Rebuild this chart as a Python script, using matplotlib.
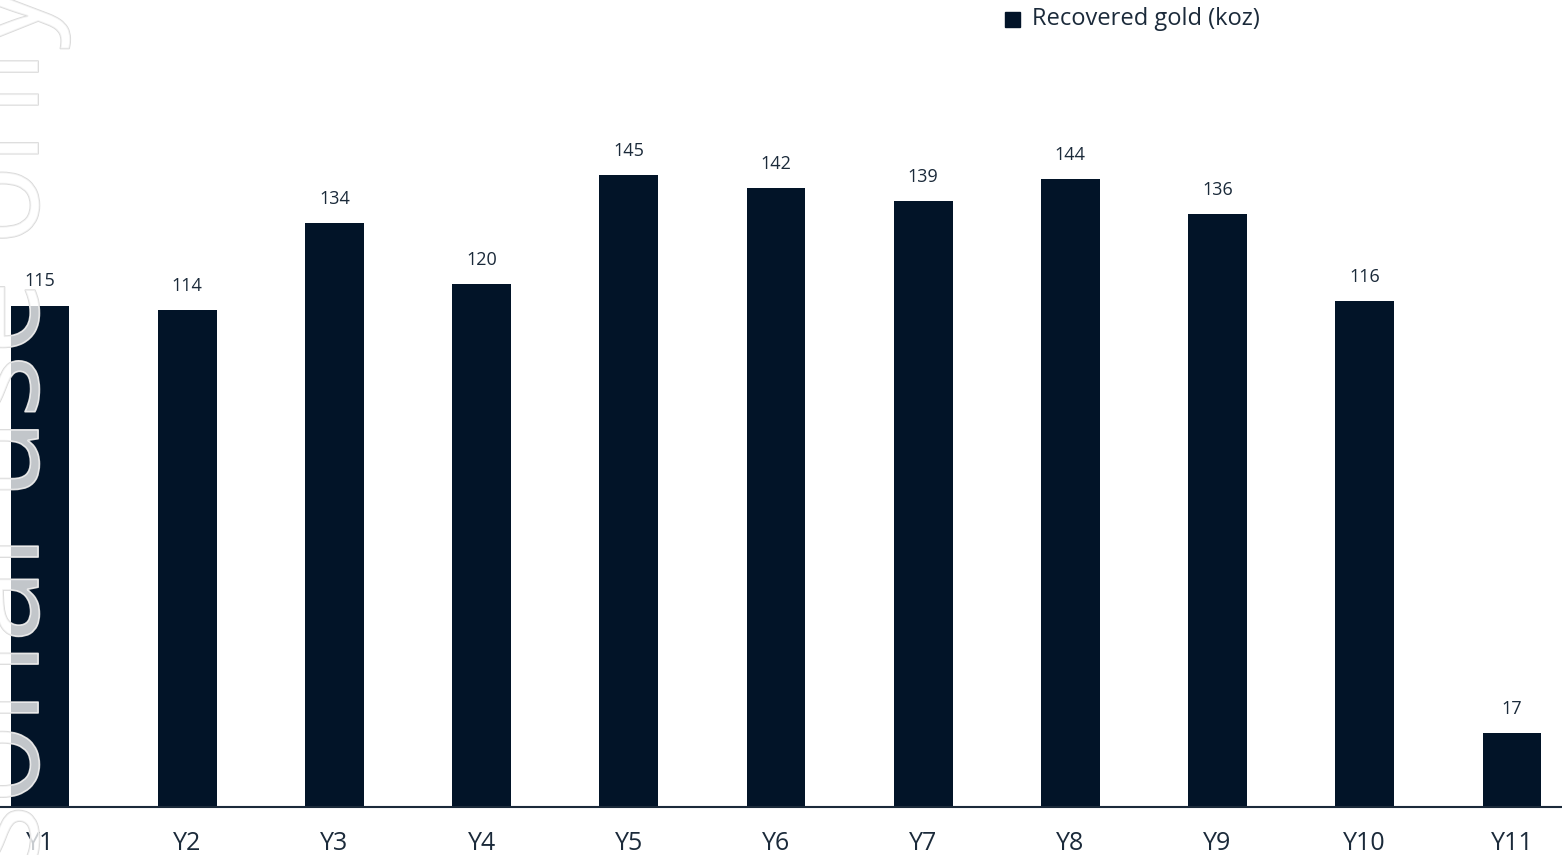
import numpy as np
import matplotlib.pyplot as plt
import matplotlib.patheffects as pe
from matplotlib.patches import Rectangle

years = ['Y1', 'Y2', 'Y3', 'Y4', 'Y5', 'Y6', 'Y7', 'Y8', 'Y9', 'Y10', 'Y11']
gold_koz = [115, 114, 134, 120, 145, 142, 139, 144, 136, 116, 17]

bar_col = '#021428'
txt_col = '#1b2a3a'

plt.rcParams['font.family'] = ['Open Sans', 'DejaVu Sans']

fig = plt.figure(figsize=(15.62, 8.55), dpi=100)
ax = fig.add_axes([0, 48 / 855, 1, 807 / 855])

x = np.arange(len(years))
bars = ax.bar(x, gold_koz, width=0.4, color=bar_col, zorder=2)
for xi, v in zip(x, gold_koz):
  ax.annotate(str(v), (xi, v), xytext=(0, 11), textcoords='offset points',
              ha='center', va='bottom', fontsize=13, color=txt_col)

ax.set_xlim(-0.272, 10.34)
ax.set_ylim(0, 185.1)
ax.set_xticks(x)
ax.set_xticklabels(years, fontsize=18, color=txt_col)
ax.tick_params(axis='x', length=0, pad=17)
ax.set_yticks([])
for s in ['top', 'right', 'left']:
  ax.spines[s].set_visible(False)
ax.spines['bottom'].set_color('#1b2a3a')
ax.spines['bottom'].set_linewidth(1.5)
ax.patch.set_alpha(0)

# legend
fig.patches.append(Rectangle((1005 / 1562, 1 - 27 / 855), 15 / 1562, 15 / 855,
                             transform=fig.transFigure, color=bar_col))
fig.text(1032 / 1562, 1 - 19 / 855, 'Recovered gold (koz)', fontsize=17,
         color=txt_col, va='center', ha='left')

# watermark
wm = fig.text(0.002, 1.02, 'For personal use only', rotation=90, fontsize=96,
              ha='center', va='top', color=(1, 1, 1, 0.38), zorder=5)
wm.set_path_effects([pe.withStroke(linewidth=1.2, foreground='#d9d9d9'), pe.Normal()])

fig.savefig('out.png', dpi=100)
